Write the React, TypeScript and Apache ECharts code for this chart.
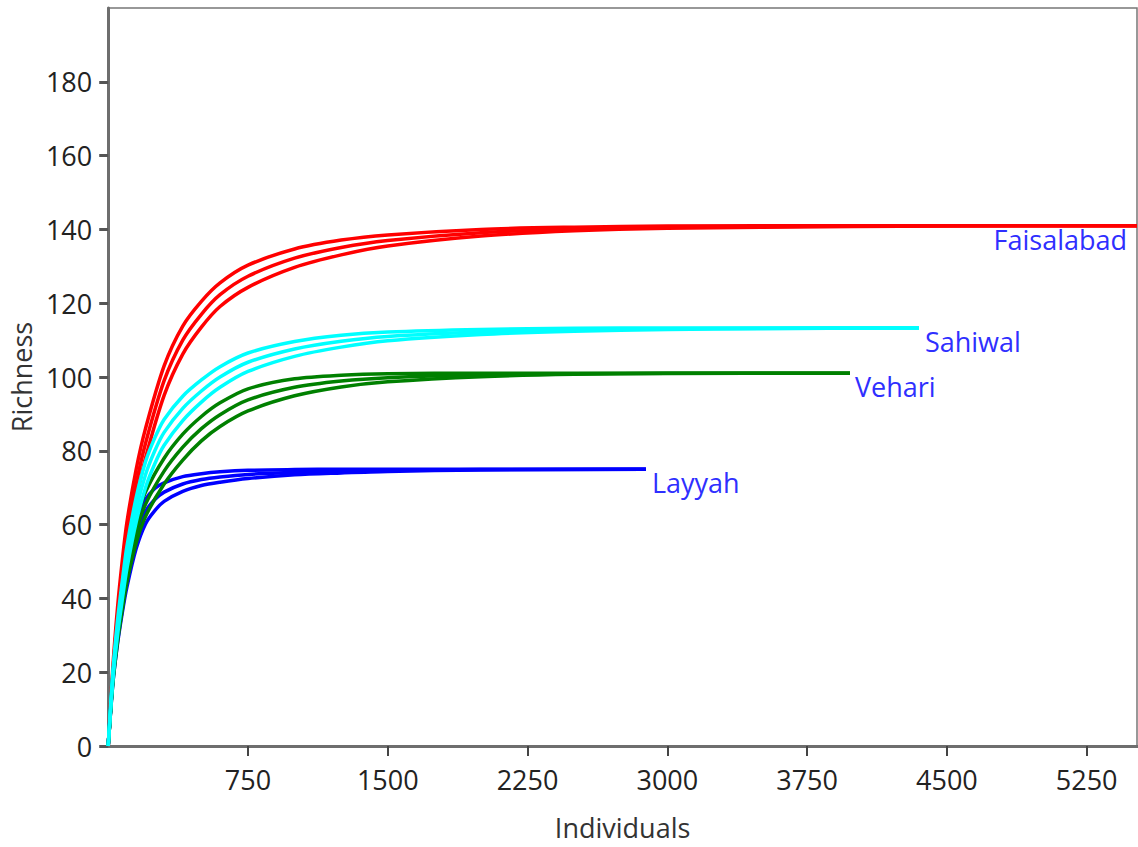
import React, { useEffect, useRef } from "react";
import * as echarts from "echarts";

// Sample sizes (individuals) and rarefied richness (mean, upper and lower bound) for each site
const faisalabadX = [0, 25, 50, 75, 100, 150, 200, 300, 400, 500, 600, 750, 1000, 1250, 1500, 2000, 2500, 3000, 4000, 5000, 5520];
const faisalabadMean = [0, 20, 35, 47, 57, 71, 82, 99, 110, 117, 122.3, 127.3, 132.2, 135.1, 137, 139.1, 140.1, 140.6, 140.9, 141, 141];
const faisalabadUpper = [0, 21.5, 37.5, 50, 60.5, 75, 86, 103, 113.8, 120.5, 125.5, 130.3, 134.7, 137.1, 138.5, 140, 140.6, 140.9, 141, 141, 141];
const faisalabadLower = [0, 18.5, 32.5, 44, 53.5, 67, 78, 95, 106.2, 113.5, 119.1, 124.3, 129.7, 133.1, 135.5, 138.2, 139.6, 140.3, 140.8, 141, 141];

const sahiwalX = [0, 25, 50, 75, 100, 150, 200, 250, 300, 400, 500, 600, 750, 1000, 1250, 1500, 2000, 2500, 3000, 3500, 4350];
const sahiwalMean = [0, 19, 32, 42, 51, 64, 73.5, 80, 85, 91.5, 96.2, 100, 104, 107.6, 109.7, 111, 112.2, 112.8, 113.1, 113.2, 113.3];
const sahiwalUpper = [0, 20.2, 34, 44.5, 54, 67.3, 77, 83.5, 88.5, 94.8, 99.2, 102.8, 106.5, 109.6, 111.3, 112.2, 112.9, 113.2, 113.3, 113.3, 113.3];
const sahiwalLower = [0, 17.8, 30, 39.5, 48, 60.7, 70, 76.5, 81.5, 88.2, 93.2, 97.2, 101.5, 105.6, 108.1, 109.8, 111.5, 112.4, 112.9, 113.1, 113.3];

const vehariX = [0, 25, 50, 75, 100, 150, 200, 300, 400, 500, 600, 750, 1000, 1250, 1500, 2000, 2500, 3000, 3980];
const vehariMean = [0, 18, 30, 39, 47, 58, 65.5, 74.5, 81, 86, 89.8, 93.8, 97.2, 98.9, 99.8, 100.6, 100.9, 101, 101];
const vehariUpper = [0, 19, 31.8, 41.3, 49.7, 61, 68.8, 78, 84.5, 89.3, 93, 96.8, 99.5, 100.5, 100.9, 101, 101, 101, 101];
const vehariLower = [0, 17, 28.2, 36.7, 44.3, 55, 62.2, 71, 77.5, 82.7, 86.6, 90.8, 94.9, 97.3, 98.7, 100.1, 100.75, 100.95, 101];

const layyahX = [0, 25, 50, 75, 100, 150, 200, 250, 300, 400, 500, 600, 750, 1000, 1250, 1500, 2000, 2885];
const layyahMean = [0, 18, 29.5, 38.5, 46, 57, 63.5, 66.8, 68.8, 71, 72.2, 72.9, 73.6, 74.2, 74.5, 74.7, 74.9, 75];
const layyahUpper = [0, 19, 31.3, 41, 49, 60.5, 66.8, 69.8, 71.3, 73, 73.8, 74.3, 74.7, 74.9, 75, 75, 75, 75];
const layyahLower = [0, 17, 27.7, 36, 43, 53.5, 60.2, 63.8, 66.3, 69, 70.6, 71.5, 72.5, 73.5, 74, 74.4, 74.8, 75];

const xTicks = [750, 1500, 2250, 3000, 3750, 4500, 5250];
const yTicks = [0, 20, 40, 60, 80, 100, 120, 140, 160, 180];

const FONT = "'Open Sans', 'Noto Sans', sans-serif";

type Site = {
  name: string;
  color: string;
  xs: number[];
  mean: number[];
  upper: number[];
  lower: number[];
  label: any;
};

const sites: Site[] = [
  {
    name: "Faisalabad",
    color: "#ff0000",
    xs: faisalabadX,
    mean: faisalabadMean,
    upper: faisalabadUpper,
    lower: faisalabadLower,
    label: { align: "right", verticalAlign: "top", distance: 0, offset: [-10, 0] },
  },
  {
    name: "Layyah",
    color: "#0000ff",
    xs: layyahX,
    mean: layyahMean,
    upper: layyahUpper,
    lower: layyahLower,
    label: { align: "left", verticalAlign: "top", distance: 6, offset: [0, 0] },
  },
  {
    name: "Vehari",
    color: "#008000",
    xs: vehariX,
    mean: vehariMean,
    upper: vehariUpper,
    lower: vehariLower,
    label: { align: "left", verticalAlign: "top", distance: 5, offset: [0, 0] },
  },
  {
    name: "Sahiwal",
    color: "#00ffff",
    xs: sahiwalX,
    mean: sahiwalMean,
    upper: sahiwalUpper,
    lower: sahiwalLower,
    label: { align: "left", verticalAlign: "top", distance: 6, offset: [0, 0] },
  },
];

function pair(xs: number[], ys: number[]) {
  return xs.map((x, i) => [x, ys[i]]);
}

export default function App() {
  const ref = useRef<HTMLDivElement>(null);
  useEffect(() => {
    if (!ref.current) return;
    const chart = echarts.init(ref.current, null, { renderer: "svg" });
    const series: any[] = [];
    sites.forEach((s) => {
      const base = {
        type: "line",
        showSymbol: false,
        symbol: "none",
        smooth: 0.3,
        lineStyle: { color: s.color, width: 3.5 },
        itemStyle: { color: s.color },
        silent: true,
      };
      series.push({ ...base, name: s.name + " upper", data: pair(s.xs, s.upper) });
      series.push({ ...base, name: s.name + " lower", data: pair(s.xs, s.lower) });
      series.push({
        ...base,
        name: s.name,
        data: pair(s.xs, s.mean),
        endLabel: {
          show: true,
          formatter: s.name,
          color: "#2f2fff",
          fontSize: 27,
          fontFamily: FONT,
          ...s.label,
        },
      });
    });
    chart.setOption({
      animation: false,
      backgroundColor: "#ffffff",
      grid: {
        left: 107,
        right: 1,
        top: 8,
        bottom: 101,
        show: true,
        borderColor: "#777777",
        borderWidth: 1.5,
      },
      xAxis: [
        {
          type: "value",
          min: 0,
          max: 5520,
          interval: 750,
          name: "Individuals",
          nameLocation: "middle",
          nameGap: 68,
          nameTextStyle: { fontSize: 27, fontFamily: FONT, color: "#333333" },
          axisLine: { show: true, onZero: false, lineStyle: { color: "#6e6e6e", width: 3 } },
          axisTick: { show: true, length: 10, customValues: xTicks, lineStyle: { color: "#444444", width: 2 } },
          axisLabel: {
            customValues: xTicks,
            margin: 20,
            fontSize: 27,
            fontFamily: FONT,
            color: "#222222",
            formatter: (v: number) => String(v),
          },
          splitLine: { show: false },
        },
        {
          type: "value",
          position: "top",
          min: 0,
          max: 5520,
          axisLine: { show: true, lineStyle: { color: "#6e6e6e", width: 3 } },
          axisTick: { show: false },
          axisLabel: { show: false },
          splitLine: { show: false },
        },
      ],
      yAxis: {
        type: "value",
        min: 0,
        max: 200,
        interval: 20,
        name: "Richness",
        nameLocation: "middle",
        nameGap: 72,
        nameTextStyle: { fontSize: 27, fontFamily: FONT, color: "#333333" },
        axisLine: { show: true, lineStyle: { color: "#6e6e6e", width: 3 } },
        axisTick: { show: true, length: 9, customValues: yTicks, lineStyle: { color: "#555555", width: 3 } },
        axisLabel: {
          customValues: yTicks,
          margin: 16,
          fontSize: 27,
          fontFamily: FONT,
          color: "#222222",
          formatter: (v: number) => String(v),
        },
        splitLine: { show: false },
      },
      series,
    });
    return () => chart.dispose();
  }, []);
  return (
    <div
      ref={ref}
      style={{ position: "fixed", left: 0, top: 0, width: 1138, height: 847, background: "#fff" }}
    />
  );
}
